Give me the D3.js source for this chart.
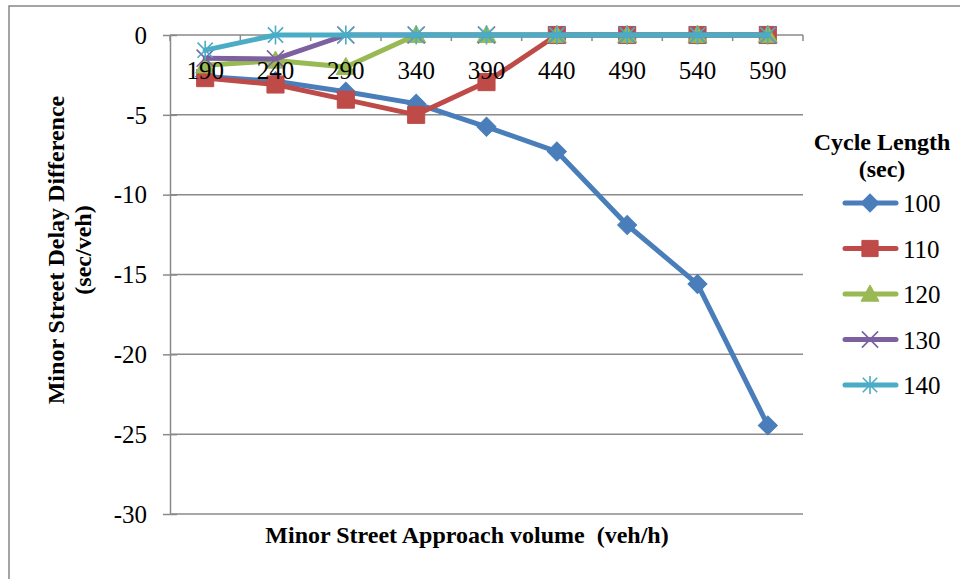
<!DOCTYPE html>
<html><head><meta charset="utf-8">
<script src="https://cdn.jsdelivr.net/npm/d3@7"></script>
<style>body{margin:0;background:#fff}svg{display:block}</style>
</head><body>
<script>
const categories = ["190","240","290","340","390","440","490","540","590"];
const seriesNames = ["100","110","120","130","140"];
const s100 = [-2.6,-2.9,-3.55,-4.3,-5.75,-7.3,-11.9,-15.6,-24.45];
const s110 = [-2.7,-3.1,-4.05,-5.0,-2.95,0,0,0,0];
const s120 = [-1.9,-1.6,-2.0,0,0,0,0,0,0];
const s130 = [-1.45,-1.5,0,0,0,0,0,0,0];
const s140 = [-0.95,0,0,0,0,0,0,0,0];
const yTicks = [0,-5,-10,-15,-20,-25,-30];
const colors = ["#4A7EBB","#BE4B48","#98B954","#7D60A0","#4BACC6"];
const markers = ["diamond","square","triangle","x","star"];
const allSeries = [s100,s110,s120,s130,s140];

const W=960,H=579;
const svg=d3.select("body").append("svg").attr("width",W).attr("height",H);
svg.append("rect").attr("x",9).attr("y",6).attr("width",W).attr("height",H)
  .attr("fill","#fff").attr("stroke","#868686").attr("stroke-width",1.5);

const L=170,R=803,T=35,B=514;
const x=d3.scaleBand().domain(categories).range([L,R]).paddingInner(0).paddingOuter(0);
const y=d3.scaleLinear().domain([-30,0]).range([B,T]);
const serif="'Liberation Serif','Times New Roman',serif";
const gridC="#8a8a8a";

// gridlines
svg.append("g").selectAll("line").data(yTicks.filter(d=>d!==0)).join("line")
  .attr("x1",L).attr("x2",R).attr("y1",d=>y(d)).attr("y2",d=>y(d))
  .attr("stroke",gridC).attr("stroke-width",1.5);

// y axis
const yAx=svg.append("g").attr("transform",`translate(${L},0)`)
  .call(d3.axisLeft(y).tickValues(yTicks).tickSize(7).tickSizeOuter(0).tickPadding(16).tickFormat(d=>d));
yAx.select(".domain").attr("stroke",gridC).attr("stroke-width",1.5);
yAx.selectAll(".tick line").attr("stroke",gridC).attr("stroke-width",1.5).attr("x2",-7).attr("x1",7);
yAx.selectAll("text").attr("font-family",serif).attr("font-size",25).attr("fill","#000").attr("dy","0.33em");

// x axis line on zero
svg.append("line").attr("x1",L).attr("x2",R).attr("y1",y(0)).attr("y2",y(0))
  .attr("stroke",gridC).attr("stroke-width",1.5);
const bounds=categories.map(c=>x(c)).concat([R]);
svg.append("g").selectAll("line").data(bounds).join("line")
  .attr("x1",d=>d).attr("x2",d=>d).attr("y1",y(0)).attr("y2",y(0)+6)
  .attr("stroke",gridC).attr("stroke-width",1.5);

// markers
function marker(g,type,color,cx,cy,s){
  if(type==="diamond"){
    g.append("path").attr("d",d3.symbol(d3.symbolSquare,s*s*0.5)()).attr("transform",`translate(${cx},${cy}) rotate(45)`)
      .attr("fill",color).attr("stroke",color).attr("stroke-width",1);
  } else if(type==="square"){
    g.append("path").attr("d",d3.symbol(d3.symbolSquare,(s*0.9)*(s*0.9))()).attr("transform",`translate(${cx},${cy})`)
      .attr("fill",color).attr("stroke",color).attr("stroke-width",1);
  } else if(type==="triangle"){
    const h=s*0.5;
    g.append("path").attr("d",`M${cx},${cy-h}L${cx+h},${cy+h*0.8}L${cx-h},${cy+h*0.8}Z`)
      .attr("fill",color).attr("stroke",color).attr("stroke-width",1);
  } else if(type==="x"){
    const h=s*0.45;
    g.append("path").attr("d",`M${cx-h},${cy-h}L${cx+h},${cy+h}M${cx-h},${cy+h}L${cx+h},${cy-h}`)
      .attr("stroke",color).attr("stroke-width",1.6).attr("fill","none");
  } else {
    const h=s*0.5;
    g.append("path").attr("d",`M${cx-h*0.8},${cy-h*0.8}L${cx+h*0.8},${cy+h*0.8}M${cx-h*0.8},${cy+h*0.8}L${cx+h*0.8},${cy-h*0.8}M${cx},${cy-h}L${cx},${cy+h}`)
      .attr("stroke",color).attr("stroke-width",1.6).attr("fill","none");
  }
}

const line=d3.line().x((d,i)=>x(categories[i])+x.bandwidth()/2).y(d=>y(d));
allSeries.forEach((data,k)=>{
  const g=svg.append("g");
  g.append("path").attr("d",line(data)).attr("fill","none").attr("stroke",colors[k])
    .attr("stroke-width",5).attr("stroke-linejoin","round").attr("stroke-linecap","round");
  data.forEach((v,i)=>marker(g,markers[k],colors[k],x(categories[i])+x.bandwidth()/2,y(v),19));
});

// x tick labels on top of the series
const xAx=svg.append("g").attr("transform",`translate(0,${y(0)})`)
  .call(d3.axisBottom(x).tickSize(0).tickPadding(26));
xAx.select(".domain").remove();
xAx.selectAll("text").attr("font-family",serif).attr("font-size",25).attr("fill","#000");

// axis titles
svg.append("text").attr("x",467).attr("y",543).attr("text-anchor","middle")
  .attr("font-family",serif).attr("font-size",24).attr("font-weight","bold")
  .attr("xml:space","preserve").text("Minor Street Approach volume  (veh/h)");
const yt=svg.append("text").attr("transform","translate(0,250) rotate(-90)")
  .attr("text-anchor","middle").attr("font-family",serif).attr("font-size",24).attr("font-weight","bold");
yt.append("tspan").attr("x",0).attr("y",64).text("Minor Street Delay Difference");
yt.append("tspan").attr("x",0).attr("y",91).text("(sec/veh)");

// legend
const lg=svg.append("g");
lg.append("text").attr("x",882).attr("y",150).attr("text-anchor","middle")
  .attr("font-family",serif).attr("font-size",24).attr("font-weight","bold").text("Cycle Length");
lg.append("text").attr("x",882).attr("y",177).attr("text-anchor","middle")
  .attr("font-family",serif).attr("font-size",24).attr("font-weight","bold").text("(sec)");
seriesNames.forEach((n,k)=>{
  const ly=203+k*45.5;
  const g=lg.append("g");
  g.append("line").attr("x1",845).attr("x2",896).attr("y1",ly).attr("y2",ly)
    .attr("stroke",colors[k]).attr("stroke-width",5).attr("stroke-linecap","round");
  marker(g,markers[k],colors[k],870,ly,18);
  g.append("text").attr("x",903).attr("y",ly+9).attr("font-family",serif).attr("font-size",25).text(n);
});
</script>
</body></html>
